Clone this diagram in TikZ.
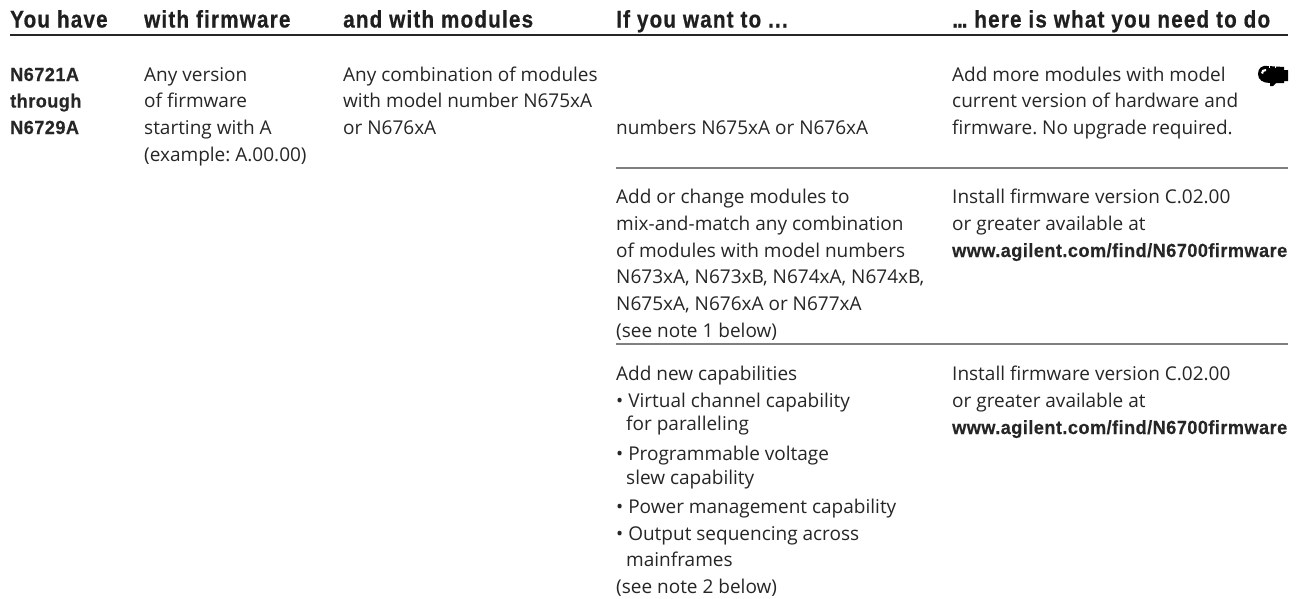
\documentclass[tikz,border=0pt]{standalone}
\usepackage{fontspec}
\setmainfont{Open Sans}
\newfontfamily\hdfont[FakeStretch=0.86,LetterSpace=5,FakeBold=0.6]{Liberation Sans Bold}
\newfontfamily\bfont[FakeStretch=0.955,LetterSpace=2.4,FakeBold=0.3]{Liberation Sans Bold}
\newfontfamily\bodyfont[FakeStretch=1.0]{Open Sans}
\tikzset{
  hd/.style={anchor=base west,inner sep=0pt,font=\fontsize{24}{28}\hdfont,text=black!88},
  body/.style={anchor=base west,inner sep=0pt,font=\fontsize{19}{26.7}\bodyfont\frenchspacing,text=black!85},
  strong/.style={anchor=base west,inner sep=0pt,font=\fontsize{19}{26.7}\bfont,text=black!85},
  rule/.style={draw=black!50,line width=1.1pt}
}
\begin{document}
\begin{tikzpicture}[x=1pt,y=-1pt]
\useasboundingbox (0,0) rectangle (1299,598);
\fill[white] (0,0) rectangle (1299,598);
\coordinate (r1a) at (10,35); \coordinate (r1b) at (1288,35);
\draw[draw=black!85,line width=1.7pt] (r1a) -- (r1b);
\coordinate (r2a) at (616,168); \coordinate (r2b) at (1288,168);
\coordinate (r3a) at (616,344); \coordinate (r3b) at (1288,344);
\draw[rule] (r2a) -- (r2b);
\draw[rule] (r3a) -- (r3b);
\node[hd] (h1) at (10,27.5) {You have};
\node[hd] (h2) at (144,27.5) {with firmware};
\node[hd] (h3) at (343,27.5) {and with modules};
\node[hd] (h4) at (616,27.5) {If you want to ...};
\node[hd] (h5) at (952,27.5) {.\kern-1pt.\kern-1pt.\ here is what you need to do};
\node[strong] (a1) at (10,81) {N6721A};
\node[strong] (a2) at (10,107.5) {through};
\node[strong] (a3) at (10,134) {N6729A};
\node[body] (b1) at (144,81) {Any version};
\node[body] (b2) at (144,107.5) {of firmware};
\node[body] (b3) at (144,134) {starting with A};
\node[body] (b4) at (144,161) {(example: A.00.00)};
\node[body] (c1) at (343,81) {Any combination of modules};
\node[body] (c2) at (343,107.5) {with model number N675xA};
\node[body] (c3) at (343,134) {or N676xA};
\node[body] (d1) at (616,134) {numbers N675xA or N676xA};
\node[body] (e1) at (952,81) {Add more modules with model};
\node[body] (e2) at (952,107.5) {current version of hardware and};
\node[body] (e3) at (952,134) {firmware. No upgrade required.};
\node[body] (f1) at (616,203) {Add or change modules to};
\node[body] (f2) at (616,230) {mix-and-match any combination};
\node[body] (f3) at (616,257) {of modules with model numbers};
\node[body] (f4) at (616,283) {N673xA, N673xB, N674xA, N674xB,};
\node[body] (f5) at (616,310) {N675xA, N676xA or N677xA};
\node[body] (f6) at (616,337) {(see note 1 below)};
\node[body] (g1) at (952,203) {Install firmware version C.02.00};
\node[body] (g2) at (952,230) {or greater available at};
\node[strong] (g3) at (952,257) {www.agilent.com/find/N6700firmware};
\node[body] (i1) at (616,380) {Add new capabilities};
\node[body] (i2) at (616,407) {• Virtual channel capability};
\node[body] (i3) at (626,430) {for paralleling};
\node[body] (i4) at (616,460) {• Programmable voltage};
\node[body] (i5) at (626,484) {slew capability};
\node[body] (i6) at (616,513) {• Power management capability};
\node[body] (i7) at (616,540) {• Output sequencing across};
\node[body] (i8) at (626,566) {mainframes};
\node[body] (i9) at (616,593) {(see note 2 below)};
\node[body] (j1) at (952,380) {Install firmware version C.02.00};
\node[body] (j2) at (952,407) {or greater available at};
\node[strong] (j3) at (952,434) {www.agilent.com/find/N6700firmware};
\fill[black] (1258,74) .. controls (1258,68) and (1262,65) .. (1268,66) -- (1284,67) -- (1284,70) -- (1288,70) -- (1288,81) -- (1284,81) -- (1284,83) -- (1276,83) -- (1273,86) -- (1270,86) -- (1270,83) .. controls (1263,83) and (1258,80) .. (1258,74) -- cycle;
\fill[white] (1261,73) .. controls (1261,70) and (1263,69) .. (1266,69) -- (1266,71) .. controls (1264,71) and (1263,72) .. (1263,74) -- cycle;
\fill[white] (1269,63) rectangle (1270,68);
\fill[white] (1275,64) rectangle (1276,68);
\end{tikzpicture}
\end{document}
